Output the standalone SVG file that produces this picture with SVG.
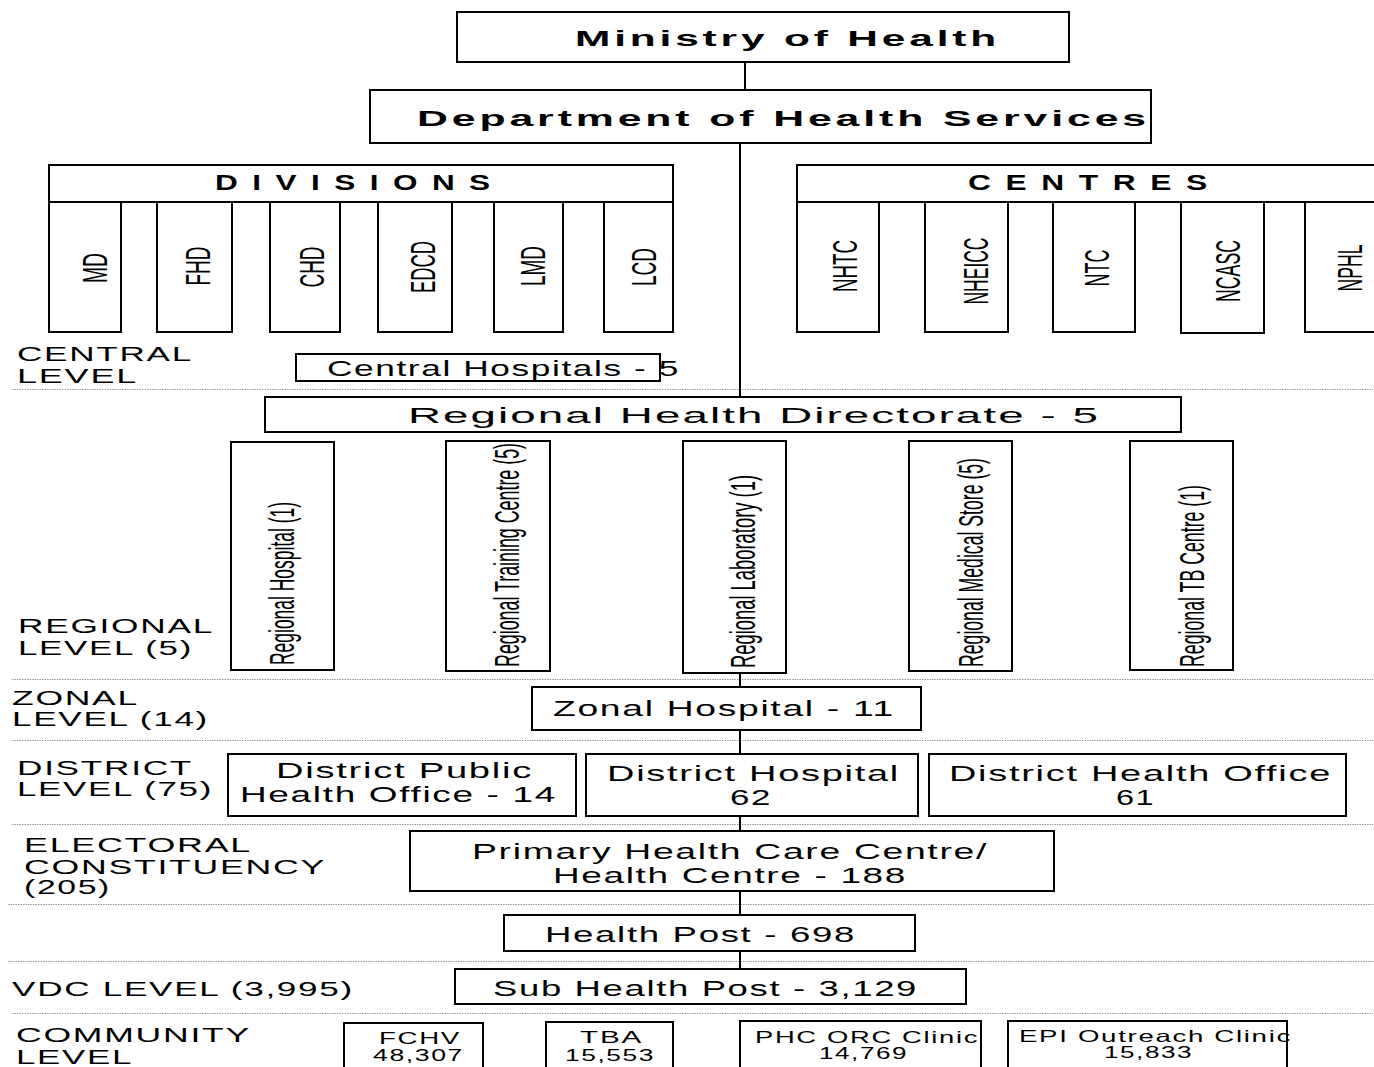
<svg xmlns="http://www.w3.org/2000/svg" width="1374" height="1067" viewBox="0 0 1374 1067">
<style>
.box{fill:#fff;stroke:#000;stroke-width:2}
.t{font-family:"Liberation Sans",Arial,sans-serif;fill:#000;font-size:22px;letter-spacing:1px}
.b{font-weight:bold;letter-spacing:2px}
.s{font-size:16.5px;letter-spacing:1px}
.lbl{font-family:"Liberation Sans",Arial,sans-serif;font-size:20.5px;fill:#000;letter-spacing:1px}
.dot{stroke:#999;stroke-width:1;stroke-dasharray:1.5 1}
.conn{stroke:#000;stroke-width:2;fill:none}
.rot{font-family:"Liberation Sans",Arial,sans-serif;fill:#000;font-size:35px;text-anchor:middle}
.rr{font-family:"Liberation Sans",Arial,sans-serif;fill:#000;font-size:35px}
</style>
<rect width="1374" height="1067" fill="#fff"/>
<g id="level-lines">
<line class="dot" x1="12" y1="389.5" x2="1374" y2="389.5"/>
<line class="dot" x1="12" y1="679.5" x2="1374" y2="679.5"/>
<line class="dot" x1="12" y1="740.5" x2="1374" y2="740.5"/>
<line class="dot" x1="12" y1="824.5" x2="1374" y2="824.5"/>
<line class="dot" x1="8" y1="904.5" x2="1374" y2="904.5"/>
<line class="dot" x1="8" y1="961.5" x2="1374" y2="961.5"/>
<line class="dot" x1="12" y1="1013.5" x2="1374" y2="1013.5"/>
</g>
<g id="connectors">
<line class="conn" x1="745" y1="62" x2="745" y2="90"/>
<line class="conn" x1="740" y1="143" x2="740" y2="397"/>
<line class="conn" x1="740" y1="673" x2="740" y2="687"/>
<line class="conn" x1="740" y1="730" x2="740" y2="754"/>
<line class="conn" x1="740" y1="816" x2="740" y2="831"/>
<line class="conn" x1="740" y1="891" x2="740" y2="915"/>
<line class="conn" x1="740" y1="951" x2="740" y2="969"/>
</g>
<g id="labels">
<text class="lbl" x="17" y="361" textLength="176" lengthAdjust="spacingAndGlyphs">CENTRAL</text>
<text class="lbl" x="17" y="383" textLength="121" lengthAdjust="spacingAndGlyphs">LEVEL</text>
<text class="lbl" x="18" y="633" textLength="196" lengthAdjust="spacingAndGlyphs">REGIONAL</text>
<text class="lbl" x="18" y="655" textLength="175" lengthAdjust="spacingAndGlyphs">LEVEL (5)</text>
<text class="lbl" x="12" y="705" textLength="127" lengthAdjust="spacingAndGlyphs">ZONAL</text>
<text class="lbl" x="12" y="726" textLength="197" lengthAdjust="spacingAndGlyphs">LEVEL (14)</text>
<text class="lbl" x="17" y="775" textLength="176" lengthAdjust="spacingAndGlyphs">DISTRICT</text>
<text class="lbl" x="17" y="796" textLength="196" lengthAdjust="spacingAndGlyphs">LEVEL (75)</text>
<text class="lbl" x="24" y="852" textLength="228" lengthAdjust="spacingAndGlyphs">ELECTORAL</text>
<text class="lbl" x="24" y="874" textLength="302" lengthAdjust="spacingAndGlyphs">CONSTITUENCY</text>
<text class="lbl" x="24" y="894" textLength="87" lengthAdjust="spacingAndGlyphs">(205)</text>
<text class="lbl" x="12" y="996" textLength="342" lengthAdjust="spacingAndGlyphs">VDC LEVEL (3,995)</text>
<text class="lbl" x="16" y="1042" textLength="235" lengthAdjust="spacingAndGlyphs">COMMUNITY</text>
<text class="lbl" x="16" y="1064" textLength="117" lengthAdjust="spacingAndGlyphs">LEVEL</text>
</g>
<g id="ministry">
<rect class="box" x="457" y="12" width="612" height="50"/>
<text class="t b" x="575" y="46" font-size="23" textLength="425" lengthAdjust="spacingAndGlyphs">Ministry of Health</text>
</g>
<g id="dohs">
<rect class="box" x="370" y="90" width="781" height="53"/>
<text class="t b" x="417" y="126" font-size="23.5" textLength="733" lengthAdjust="spacingAndGlyphs">Department of Health Services</text>
</g>
<g id="divisions">
<rect class="box" x="49" y="165" width="624" height="37"/>
<text class="t b" x="215" y="190" font-size="18.5" letter-spacing="2" textLength="278" lengthAdjust="spacingAndGlyphs">D I V I S I O N S</text>
</g>
<g id="div-md"><rect class="box" x="49" y="202" width="72" height="130"/><text class="rot" transform="translate(107,268) rotate(-90)" textLength="30" lengthAdjust="spacingAndGlyphs">MD</text></g>
<g id="div-fhd"><rect class="box" x="157" y="202" width="75" height="130"/><text class="rot" transform="translate(210,266) rotate(-90)" textLength="39" lengthAdjust="spacingAndGlyphs">FHD</text></g>
<g id="div-chd"><rect class="box" x="270" y="202" width="70" height="130"/><text class="rot" transform="translate(324,267) rotate(-90)" textLength="41" lengthAdjust="spacingAndGlyphs">CHD</text></g>
<g id="div-edcd"><rect class="box" x="378" y="202" width="74" height="130"/><text class="rot" transform="translate(435,267) rotate(-90)" textLength="52" lengthAdjust="spacingAndGlyphs">EDCD</text></g>
<g id="div-lmd"><rect class="box" x="494" y="202" width="69" height="130"/><text class="rot" transform="translate(545,266) rotate(-90)" textLength="40" lengthAdjust="spacingAndGlyphs">LMD</text></g>
<g id="div-lcd"><rect class="box" x="604" y="202" width="69" height="130"/><text class="rot" transform="translate(656,267) rotate(-90)" textLength="38" lengthAdjust="spacingAndGlyphs">LCD</text></g>
<g id="centres">
<path class="box" d="M1375,165 H797 V202 H1375"/>
<text class="t b" x="968" y="190" font-size="18.5" letter-spacing="2" textLength="242" lengthAdjust="spacingAndGlyphs">C E N T R E S</text>
</g>
<g id="c-nhtc"><rect class="box" x="797" y="202" width="82" height="130"/><text class="rot" transform="translate(857,266) rotate(-90)" textLength="52" lengthAdjust="spacingAndGlyphs">NHTC</text></g>
<g id="c-nheicc"><rect class="box" x="925" y="202" width="83" height="130"/><text class="rot" transform="translate(988,271) rotate(-90)" textLength="67" lengthAdjust="spacingAndGlyphs">NHEICC</text></g>
<g id="c-ntc"><rect class="box" x="1053" y="202" width="82" height="130"/><text class="rot" transform="translate(1109,268) rotate(-90)" textLength="37" lengthAdjust="spacingAndGlyphs">NTC</text></g>
<g id="c-ncasc"><rect class="box" x="1181" y="202" width="83" height="131"/><text class="rot" transform="translate(1240,271) rotate(-90)" textLength="62" lengthAdjust="spacingAndGlyphs">NCASC</text></g>
<g id="c-nphl"><path class="box" d="M1375,202 H1305 V332 H1375"/><text class="rot" transform="translate(1362,268) rotate(-90)" textLength="47" lengthAdjust="spacingAndGlyphs">NPHL</text></g>
<g id="central-hospitals">
<rect class="box" x="296" y="354" width="364" height="27"/>
<text class="t" x="327" y="376" font-size="20" textLength="353" lengthAdjust="spacingAndGlyphs">Central Hospitals - 5</text>
</g>
<g id="rhd">
<rect class="box" x="265" y="397" width="916" height="35"/>
<text class="t" x="408" y="423" font-size="24" textLength="692" lengthAdjust="spacingAndGlyphs">Regional Health Directorate - 5</text>
</g>
<g id="reg-hospital"><rect class="box" x="231" y="442" width="103" height="228"/><text class="rr" transform="translate(294,665) rotate(-90)" textLength="163" lengthAdjust="spacingAndGlyphs">Regional Hospital (1)</text></g>
<g id="reg-training"><rect class="box" x="446" y="441" width="104" height="230"/><text class="rr" transform="translate(519,667) rotate(-90)" textLength="224" lengthAdjust="spacingAndGlyphs">Regional Training Centre (5)</text></g>
<g id="reg-lab"><rect class="box" x="683" y="441" width="103" height="232"/><text class="rr" transform="translate(755,668) rotate(-90)" textLength="193" lengthAdjust="spacingAndGlyphs">Regional Laboratory (1)</text></g>
<g id="reg-store"><rect class="box" x="909" y="441" width="103" height="230"/><text class="rr" transform="translate(983,667) rotate(-90)" textLength="209" lengthAdjust="spacingAndGlyphs">Regional Medical Store (5)</text></g>
<g id="reg-tb"><rect class="box" x="1130" y="441" width="103" height="229"/><text class="rr" transform="translate(1204,667) rotate(-90)" textLength="182" lengthAdjust="spacingAndGlyphs">Regional TB Centre (1)</text></g>
<g id="zonal">
<rect class="box" x="532" y="687" width="389" height="43"/>
<text class="t" x="553" y="716" textLength="342" lengthAdjust="spacingAndGlyphs">Zonal Hospital - 11</text>
</g>
<g id="dpho">
<rect class="box" x="228" y="754" width="348" height="62"/>
<text class="t" x="276" y="778" textLength="257" lengthAdjust="spacingAndGlyphs">District Public</text>
<text class="t" x="240" y="802" textLength="317" lengthAdjust="spacingAndGlyphs">Health Office - 14</text>
</g>
<g id="district-hospital">
<rect class="box" x="586" y="754" width="332" height="62"/>
<text class="t" x="607" y="781" textLength="293" lengthAdjust="spacingAndGlyphs">District Hospital</text>
<text class="t" x="730" y="805" textLength="42" lengthAdjust="spacingAndGlyphs">62</text>
</g>
<g id="dho">
<rect class="box" x="929" y="754" width="417" height="62"/>
<text class="t" x="949" y="781" textLength="383" lengthAdjust="spacingAndGlyphs">District Health Office</text>
<text class="t" x="1116" y="805" textLength="39" lengthAdjust="spacingAndGlyphs">61</text>
</g>
<g id="phc">
<rect class="box" x="410" y="831" width="644" height="60"/>
<text class="t" x="472" y="859" textLength="516" lengthAdjust="spacingAndGlyphs">Primary Health Care Centre/</text>
<text class="t" x="553" y="883" textLength="354" lengthAdjust="spacingAndGlyphs">Health Centre - 188</text>
</g>
<g id="health-post">
<rect class="box" x="504" y="915" width="411" height="36"/>
<text class="t" x="545" y="942" textLength="311" lengthAdjust="spacingAndGlyphs">Health Post - 698</text>
</g>
<g id="sub-health-post">
<rect class="box" x="455" y="969" width="511" height="35"/>
<text class="t" x="493" y="996" textLength="425" lengthAdjust="spacingAndGlyphs">Sub Health Post - 3,129</text>
</g>
<g id="fchv">
<rect class="box" x="344" y="1023" width="139" height="60"/>
<text class="t s" x="379" y="1044" textLength="82" lengthAdjust="spacingAndGlyphs">FCHV</text>
<text class="t s" x="373" y="1061" textLength="91" lengthAdjust="spacingAndGlyphs">48,307</text>
</g>
<g id="tba">
<rect class="box" x="546" y="1022" width="127" height="60"/>
<text class="t s" x="580" y="1043" textLength="63" lengthAdjust="spacingAndGlyphs">TBA</text>
<text class="t s" x="565" y="1061" textLength="90" lengthAdjust="spacingAndGlyphs">15,553</text>
</g>
<g id="phc-orc">
<rect class="box" x="740" y="1021" width="241" height="60"/>
<text class="t s" x="755" y="1043" textLength="224" lengthAdjust="spacingAndGlyphs">PHC ORC Clinic</text>
<text class="t s" x="819" y="1059" textLength="89" lengthAdjust="spacingAndGlyphs">14,769</text>
</g>
<g id="epi">
<rect class="box" x="1008" y="1021" width="279" height="60"/>
<text class="t s" x="1019" y="1042" textLength="273" lengthAdjust="spacingAndGlyphs">EPI Outreach Clinic</text>
<text class="t s" x="1104" y="1058" textLength="89" lengthAdjust="spacingAndGlyphs">15,833</text>
</g>
</svg>
